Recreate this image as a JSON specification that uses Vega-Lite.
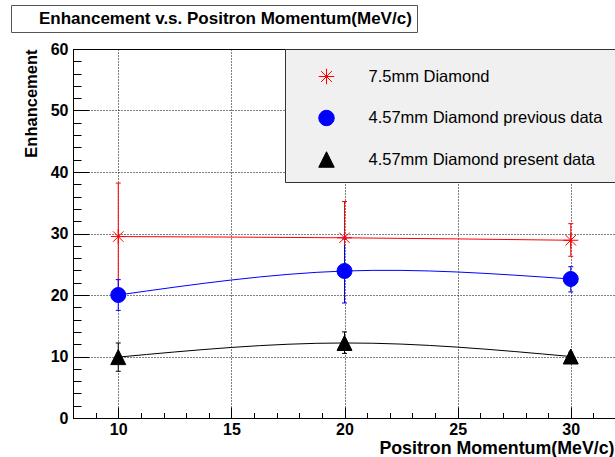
{
  "$schema": "https://vega.github.io/schema/vega-lite/v6.json",
  "padding": {"left": 10, "top": 4, "right": 0, "bottom": 0},
  "background": "white",
  "width": 543,
  "height": 369,
  "view": {"stroke": "black", "strokeWidth": 1, "fill": "white"},
  "datasets": {
    "pts": [
      {"p": 10, "e": 29.5, "lo": 20.8, "hi": 38.2, "s": "7.5mm Diamond"},
      {"p": 20, "e": 29.3, "lo": 23.4, "hi": 35.2, "s": "7.5mm Diamond"},
      {"p": 30, "e": 28.9, "lo": 26.3, "hi": 31.6, "s": "7.5mm Diamond"},
      {"p": 10, "e": 20.0, "lo": 17.5, "hi": 22.5, "s": "4.57mm Diamond previous data"},
      {"p": 20, "e": 23.9, "lo": 18.7, "hi": 29.1, "s": "4.57mm Diamond previous data"},
      {"p": 30, "e": 22.6, "lo": 20.5, "hi": 24.6, "s": "4.57mm Diamond previous data"},
      {"p": 10, "e": 9.9, "lo": 7.6, "hi": 12.2, "s": "4.57mm Diamond present data"},
      {"p": 20, "e": 12.2, "lo": 10.5, "hi": 14.0, "s": "4.57mm Diamond present data"},
      {"p": 30, "e": 10.0, "lo": 9.3, "hi": 10.7, "s": "4.57mm Diamond present data"}
    ],
    "ttl": [{"t": "Enhancement v.s. Positron Momentum(MeV/c)"}]
  },
  "data": {"name": "pts"},
  "layer": [
    {
      "transform": [{"filter": "datum.s === '7.5mm Diamond'"}],
      "mark": {"type": "line", "color": "#ff0000", "strokeWidth": 1, "interpolate": "natural"},
      "encoding": {
        "x": {"field": "p", "type": "quantitative", "scale": {"domain": [8, 32], "nice": false, "zero": false},
          "axis": {
            "values": [8,9,10,11,12,13,14,15,16,17,18,19,20,21,22,23,24,25,26,27,28,29,30,31,32],
            "tickCount": 200, "format": "d",
            "labelExpr": "datum.value % 5 === 0 ? datum.label : ''",
            "tickSize": {"condition": {"test": "datum.value % 5 === 0", "value": -11}, "value": -5.5},
            "grid": true,
            "gridOpacity": {"condition": {"test": "datum.value % 5 === 0", "value": 1}, "value": 0},
            "gridColor": "#000000", "gridDash": [1, 2], "gridWidth": 1,
            "domainColor": "#000000", "domainWidth": 1, "tickColor": "#000000", "tickWidth": 1,
            "labelFont": "Liberation Sans", "labelFontWeight": "bold", "labelFontSize": 16, "labelColor": "#000000",
            "labelPadding": 14, "labelOverlap": false, "labelFlush": false, "labelBound": false,
            "title": "Positron Momentum(MeV/c)", "titleFont": "Liberation Sans", "titleFontWeight": "bold", "titleFontSize": 17.8, "titleColor": "#000000",
            "titleX": 541, "titleY": 35, "titleAlign": "right", "titleBaseline": "alphabetic", "titleAnchor": "end"
          }},
        "y": {"field": "e", "type": "quantitative", "scale": {"domain": [0, 60], "nice": false},
          "axis": {
            "values": [0,2,4,6,8,10,12,14,16,18,20,22,24,26,28,30,32,34,36,38,40,42,44,46,48,50,52,54,56,58,60],
            "tickCount": 200, "format": "d",
            "labelExpr": "datum.value % 10 === 0 ? datum.label : ''",
            "tickSize": {"condition": {"test": "datum.value % 10 === 0", "value": -16}, "value": -8},
            "grid": true,
            "gridOpacity": {"condition": {"test": "datum.value % 10 === 0", "value": 1}, "value": 0},
            "gridColor": "#000000", "gridDash": [1, 2], "gridWidth": 1,
            "domainColor": "#000000", "domainWidth": 1, "tickColor": "#000000", "tickWidth": 1,
            "labelFont": "Liberation Sans", "labelFontWeight": "bold", "labelFontSize": 16, "labelColor": "#000000",
            "labelPadding": 21, "labelOverlap": false, "labelFlush": false, "labelBound": false,
            "title": "Enhancement", "titleFont": "Liberation Sans", "titleFontWeight": "bold", "titleFontSize": 16.5, "titleColor": "#000000",
            "titleX": -37, "titleY": 0, "titleAlign": "right", "titleBaseline": "alphabetic", "titleAngle": 270
          }}
      }
    },
    {
      "transform": [{"filter": "datum.s === '7.5mm Diamond'"}],
      "mark": {"type": "rule", "color": "#ff0000", "strokeWidth": 1},
      "encoding": {"x": {"field": "p", "type": "quantitative"}, "y": {"field": "lo", "type": "quantitative"}, "y2": {"field": "hi"}}
    },
    {
      "transform": [{"filter": "datum.s === '7.5mm Diamond'"}],
      "mark": {"type": "tick", "orient": "horizontal", "color": "#ff0000", "size": 5, "thickness": 1, "opacity": 1},
      "encoding": {"x": {"field": "p", "type": "quantitative"}, "y": {"field": "lo", "type": "quantitative"}}
    },
    {
      "transform": [{"filter": "datum.s === '7.5mm Diamond'"}],
      "mark": {"type": "tick", "orient": "horizontal", "color": "#ff0000", "size": 5, "thickness": 1, "opacity": 1},
      "encoding": {"x": {"field": "p", "type": "quantitative"}, "y": {"field": "hi", "type": "quantitative"}}
    },
    {
      "transform": [{"filter": "datum.s === '4.57mm Diamond previous data'"}],
      "mark": {"type": "line", "color": "#0000ff", "strokeWidth": 1, "interpolate": "natural"},
      "encoding": {"x": {"field": "p", "type": "quantitative"}, "y": {"field": "e", "type": "quantitative"}}
    },
    {
      "transform": [{"filter": "datum.s === '4.57mm Diamond previous data'"}],
      "mark": {"type": "rule", "color": "#0000ff", "strokeWidth": 1},
      "encoding": {"x": {"field": "p", "type": "quantitative"}, "y": {"field": "lo", "type": "quantitative"}, "y2": {"field": "hi"}}
    },
    {
      "transform": [{"filter": "datum.s === '4.57mm Diamond previous data'"}],
      "mark": {"type": "tick", "orient": "horizontal", "color": "#0000ff", "size": 5, "thickness": 1, "opacity": 1},
      "encoding": {"x": {"field": "p", "type": "quantitative"}, "y": {"field": "lo", "type": "quantitative"}}
    },
    {
      "transform": [{"filter": "datum.s === '4.57mm Diamond previous data'"}],
      "mark": {"type": "tick", "orient": "horizontal", "color": "#0000ff", "size": 5, "thickness": 1, "opacity": 1},
      "encoding": {"x": {"field": "p", "type": "quantitative"}, "y": {"field": "hi", "type": "quantitative"}}
    },
    {
      "transform": [{"filter": "datum.s === '4.57mm Diamond present data'"}],
      "mark": {"type": "line", "color": "#000000", "strokeWidth": 1, "interpolate": "natural"},
      "encoding": {"x": {"field": "p", "type": "quantitative"}, "y": {"field": "e", "type": "quantitative"}}
    },
    {
      "transform": [{"filter": "datum.s === '4.57mm Diamond present data'"}],
      "mark": {"type": "rule", "color": "#000000", "strokeWidth": 1},
      "encoding": {"x": {"field": "p", "type": "quantitative"}, "y": {"field": "lo", "type": "quantitative"}, "y2": {"field": "hi"}}
    },
    {
      "transform": [{"filter": "datum.s === '4.57mm Diamond present data'"}],
      "mark": {"type": "tick", "orient": "horizontal", "color": "#000000", "size": 5, "thickness": 1, "opacity": 1},
      "encoding": {"x": {"field": "p", "type": "quantitative"}, "y": {"field": "lo", "type": "quantitative"}}
    },
    {
      "transform": [{"filter": "datum.s === '4.57mm Diamond present data'"}],
      "mark": {"type": "tick", "orient": "horizontal", "color": "#000000", "size": 5, "thickness": 1, "opacity": 1},
      "encoding": {"x": {"field": "p", "type": "quantitative"}, "y": {"field": "hi", "type": "quantitative"}}
    },
    {
      "mark": {"type": "point", "filled": true, "size": 225, "strokeWidth": 1, "opacity": 1},
      "encoding": {
        "x": {"field": "p", "type": "quantitative"},
        "y": {"field": "e", "type": "quantitative"},
        "color": {"field": "s", "type": "nominal",
          "scale": {"domain": ["7.5mm Diamond", "4.57mm Diamond previous data", "4.57mm Diamond present data"], "range": ["#ff0000", "#0000ff", "#000000"]},
          "legend": {"title": "\u00a0", "titleFontSize": 7, "titlePadding": 0, "orient": "none", "legendX": 212, "legendY": 0, "fillColor": "#f0f0f0", "strokeColor": "#333333", "padding": 12, "labelFont": "Liberation Sans", "labelFontSize": 16.5, "labelColor": "#000000", "labelLimit": 400, "symbolSize": 240, "symbolStrokeWidth": 1, "rowPadding": 20.5, "labelOffset": 33.5, "symbolOffset": 21}},
        "stroke": {"field": "s", "type": "nominal",
          "scale": {"domain": ["7.5mm Diamond", "4.57mm Diamond previous data", "4.57mm Diamond present data"], "range": ["#ff0000", "#0000ff", "#000000"]},
          "legend": {"title": "\u00a0", "titleFontSize": 7, "titlePadding": 0, "orient": "none", "legendX": 212, "legendY": 0, "fillColor": "#f0f0f0", "strokeColor": "#333333", "padding": 12, "labelFont": "Liberation Sans", "labelFontSize": 16.5, "labelColor": "#000000", "labelLimit": 400, "symbolSize": 240, "symbolStrokeWidth": 1, "rowPadding": 20.5, "labelOffset": 33.5, "symbolOffset": 21}},
        "shape": {"field": "s", "type": "nominal",
          "scale": {"domain": ["7.5mm Diamond", "4.57mm Diamond previous data", "4.57mm Diamond present data"], "range": ["M-1,0L1,0M0,-1L0,1M-0.7,-0.7L0.7,0.7M-0.7,0.7L0.7,-0.7", "circle", "M0,-1L-1,1L1,1Z"]},
          "legend": {"title": "\u00a0", "titleFontSize": 7, "titlePadding": 0, "orient": "none", "legendX": 212, "legendY": 0, "fillColor": "#f0f0f0", "strokeColor": "#333333", "padding": 12, "labelFont": "Liberation Sans", "labelFontSize": 16.5, "labelColor": "#000000", "labelLimit": 400, "symbolSize": 240, "symbolStrokeWidth": 1, "rowPadding": 20.5, "labelOffset": 33.5, "symbolOffset": 21}}
      }
    },
    {
      "data": {"name": "ttl"},
      "mark": {"type": "point", "opacity": 0},
      "encoding": {
        "strokeDash": {"field": "t", "type": "nominal",
          "legend": {"title": null, "orient": "none", "legendX": -62, "legendY": -44, "fillColor": "#ffffff", "strokeColor": "#555555", "padding": 5,
            "labelFont": "Liberation Sans", "labelFontWeight": "bold", "labelFontSize": 17, "labelColor": "#000000", "labelLimit": 600,
            "labelExpr": "datum.label + '\u00a0\u00a0\u00a0'",
            "symbolSize": 0, "symbolOpacity": 0, "symbolStrokeWidth": 0, "symbolOffset": 0, "labelOffset": 6}}
      }
    }
  ]
}
